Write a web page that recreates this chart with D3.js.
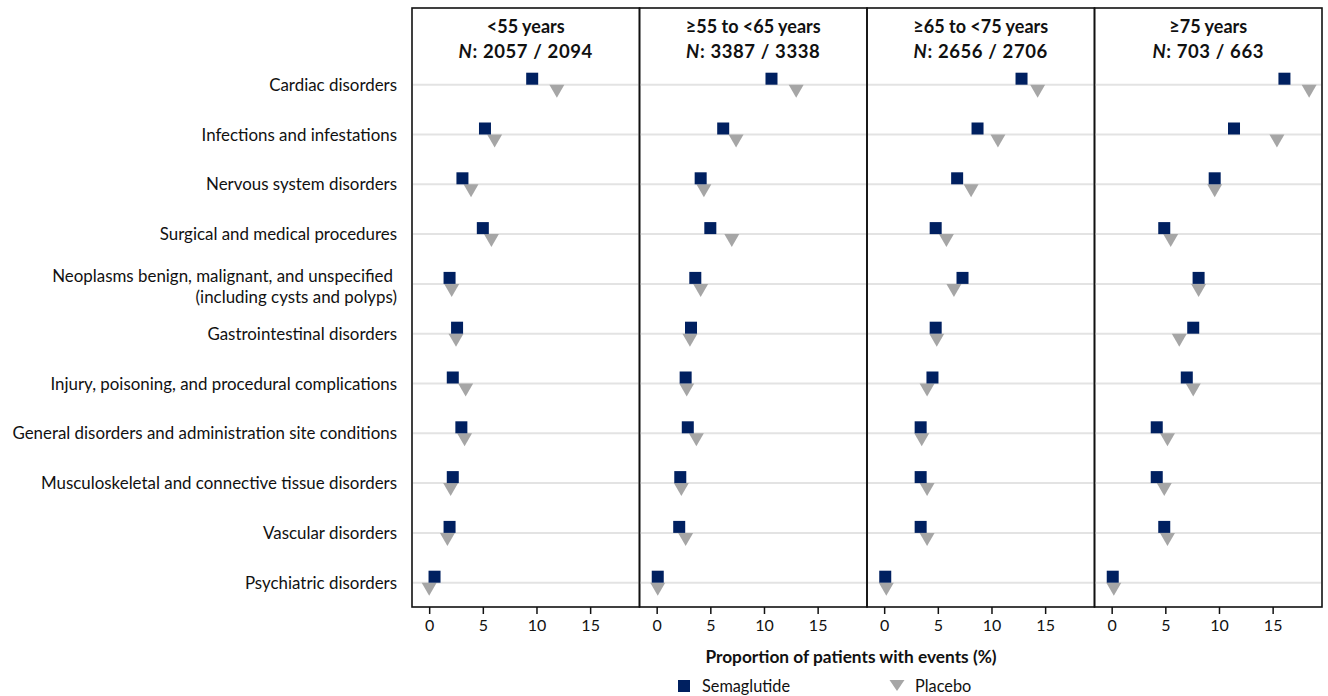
<!DOCTYPE html>
<html>
<head>
<meta charset="utf-8">
<script src="https://cdn.jsdelivr.net/npm/d3@7"></script>
<style>
  html, body { margin: 0; padding: 0; background: #fff; }
  svg { display: block; }
  text { font-family: Lato, "Open Sans", sans-serif; fill: #111; }
</style>
</head>
<body>
<svg id="chart" width="1328" height="696"></svg>
<script>
// ---------- data ----------
const categories = [
  "Cardiac disorders",
  "Infections and infestations",
  "Nervous system disorders",
  "Surgical and medical procedures",
  "Neoplasms benign, malignant, and unspecified|(including cysts and polyps)",
  "Gastrointestinal disorders",
  "Injury, poisoning, and procedural complications",
  "General disorders and administration site conditions",
  "Musculoskeletal and connective tissue disorders",
  "Vascular disorders",
  "Psychiatric disorders"
];
const groupTitles = ["<55 years", "\u226555 to <65 years", "\u226565 to <75 years", "\u226575 years"];
const groupN = ["2057 / 2094", "3387 / 3338", "2656 / 2706", "703 / 663"];

// Semaglutide (%) per age group, in category order
const semaLt55   = [9.6, 5.2, 3.1, 5.0, 1.9, 2.6, 2.2, 3.0, 2.2, 1.9, 0.5];
const sema55to65 = [10.7, 6.2, 4.1, 5.0, 3.6, 3.2, 2.7, 2.9, 2.2, 2.1, 0.1];
const sema65to75 = [12.8, 8.7, 6.8, 4.8, 7.3, 4.8, 4.5, 3.4, 3.4, 3.4, 0.1];
const semaGe75   = [16.1, 11.4, 9.6, 4.9, 8.1, 7.6, 7.0, 4.2, 4.2, 4.9, 0.1];
// Placebo (%) per age group
const placLt55   = [11.9, 6.1, 3.9, 5.8, 2.1, 2.5, 3.4, 3.3, 2.0, 1.7, 0.0];
const plac55to65 = [13.0, 7.4, 4.4, 7.0, 4.1, 3.1, 2.8, 3.7, 2.3, 2.7, 0.1];
const plac65to75 = [14.3, 10.6, 8.1, 5.8, 6.5, 4.9, 4.0, 3.5, 4.0, 4.0, 0.2];
const placGe75   = [18.4, 15.4, 9.6, 5.5, 8.1, 6.3, 7.6, 5.2, 4.9, 5.2, 0.2];

const xTicks = [0, 5, 10, 15];
const seriesNames = ["Semaglutide", "Placebo"];
const axisTitle = "Proportion of patients with events (%)";

const semaByGroup = [semaLt55, sema55to65, sema65to75, semaGe75];
const placByGroup = [placLt55, plac55to65, plac65to75, placGe75];

// ---------- layout ----------
const svg = d3.select("#chart");
const plotLeft = 412, plotRight = 1322, plotTop = 8, plotBottom = 607;
const nPanels = groupTitles.length;
const panelW = (plotRight - plotLeft) / nPanels;
const SEMA = "#002060", PLAC = "#a6a6a6";

const y = d3.scalePoint().domain(d3.range(categories.length)).range([84.7, 582.7]);

const sqSize = 12, triW = 15, triH = 13;
const triPath = (w, h) => `M${-w/2},0L${w/2},0L0,${h}Z`;

// category labels
const labG = svg.append("g");
categories.forEach((c, i) => {
  const lines = c.split("|");
  const t = labG.append("text")
    .attr("text-anchor", "end")
    .attr("font-size", 16.9);
  if (lines.length === 1) {
    t.attr("x", 397).attr("y", y(i) + 6).text(c);
  } else {
    lines.forEach((ln, k) => {
      t.append("tspan").attr("x", k === 0 ? 393 : 397)
        .attr("y", y(i) - 2 + k * 21).text(ln);
    });
  }
});

for (let p = 0; p < nPanels; p++) {
  const x0 = plotLeft + p * panelW;
  const x = d3.scaleLinear().domain([-1.6, 19.6]).range([x0, x0 + panelW]);
  const g = svg.append("g");

  // grid lines
  g.selectAll("line.grid").data(categories).join("line")
    .attr("x1", x0 + 1).attr("x2", x0 + panelW - 1)
    .attr("y1", (d, i) => y(i)).attr("y2", (d, i) => y(i))
    .attr("stroke", "#e3e3e3").attr("stroke-width", 2);

  // placebo triangles
  g.selectAll("path.plac").data(placByGroup[p]).join("path")
    .attr("d", triPath(triW, triH))
    .attr("transform", (d, i) => `translate(${x(d)},${y(i)})`)
    .attr("fill", PLAC);

  // semaglutide squares
  g.selectAll("rect.sema").data(semaByGroup[p]).join("rect")
    .attr("x", d => x(d) - sqSize / 2)
    .attr("y", (d, i) => y(i) - sqSize)
    .attr("width", sqSize).attr("height", sqSize)
    .attr("fill", SEMA);

  // frame
  g.append("rect")
    .attr("x", x0).attr("y", plotTop)
    .attr("width", panelW).attr("height", plotBottom - plotTop)
    .attr("fill", "none").attr("stroke", "#111").attr("stroke-width", 1.6);

  // header
  const cx = x0 + panelW / 2;
  g.append("text").attr("x", cx).attr("y", 33).attr("text-anchor", "middle")
    .attr("font-size", 18).attr("font-weight", "bold").text(groupTitles[p]);
  const t2 = g.append("text").attr("x", cx).attr("y", 58).attr("text-anchor", "middle")
    .attr("font-size", 18.5).attr("font-weight", "bold").attr("letter-spacing", 0.6);
  t2.append("tspan").attr("font-style", "italic").text("N");
  t2.append("tspan").text(": " + groupN[p]);

  // x axis
  const ax = svg.append("g").attr("transform", `translate(0,${plotBottom})`)
    .call(d3.axisBottom(x).tickValues(xTicks).tickSize(7).tickPadding(6).tickSizeOuter(0));
  ax.select(".domain").remove();
  ax.selectAll(".tick line").attr("stroke", "#111").attr("stroke-width", 1.5);
  ax.selectAll(".tick text").attr("font-size", 16).attr("font-family", "Lato, 'Open Sans', sans-serif").attr("fill", "#111");
}

// axis title
svg.append("text").attr("x", 851).attr("y", 663).attr("text-anchor", "middle")
  .attr("font-size", 17.3).attr("font-weight", "bold").text(axisTitle);

// legend
const leg = svg.append("g");
leg.append("rect").attr("x", 678).attr("y", 680).attr("width", sqSize).attr("height", sqSize).attr("fill", SEMA);
leg.append("text").attr("x", 702).attr("y", 692).attr("font-size", 16.3).text(seriesNames[0]);
leg.append("path").attr("d", triPath(triW, 11)).attr("transform", "translate(897,680)").attr("fill", PLAC);
leg.append("text").attr("x", 915).attr("y", 692).attr("font-size", 16.3).text(seriesNames[1]);
</script>
</body>
</html>
